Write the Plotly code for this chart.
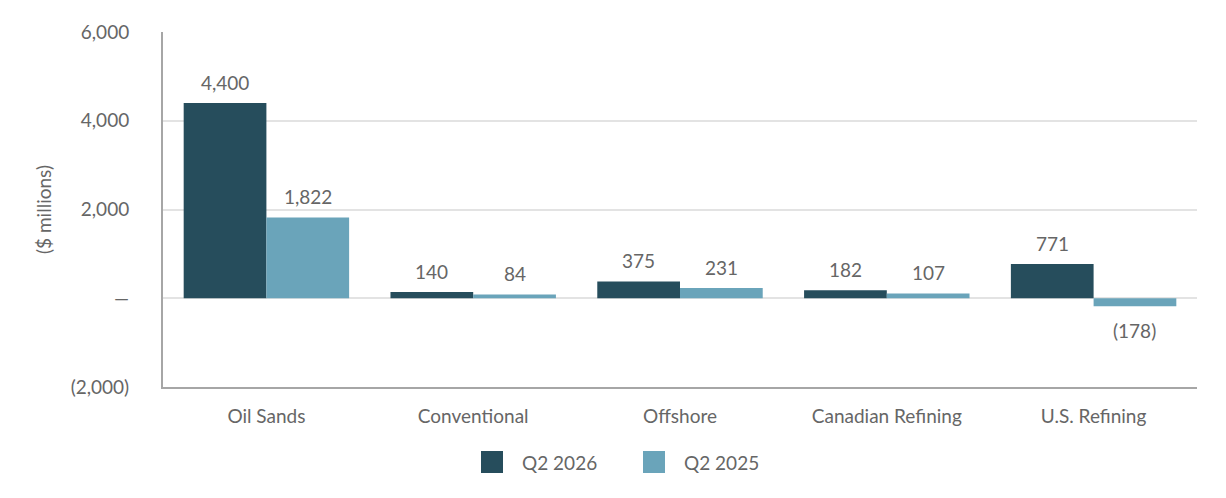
import plotly.graph_objects as go

categories = ["Oil Sands", "Conventional", "Offshore", "Canadian Refining", "U.S. Refining"]
q2_2026 = [4400, 140, 375, 182, 771]
q2_2025 = [1822, 84, 231, 107, -178]
series_names = ["Q2 2026", "Q2 2025"]
tick_vals = [-2000, 0, 2000, 4000, 6000]
tick_text = ["(2,000)", "—", "2,000", "4,000", "6,000"]

DARK = "#264D5C"
LIGHT = "#6AA4BA"
TXT = "#666666"
FONT = "Lato"
FS = 19

W, H = 1226, 498
ML, MR, MT, MB = 163, 29, 32, 111
plot_w = W - ML - MR
plot_h = H - MT - MB

def fmt(v):
    return f"({abs(v):,})" if v < 0 else f"{v:,}"

def px_x(px):
    return (px - ML) / plot_w

def px_y(py):
    return (H - MB - py) / plot_h

fig = go.Figure()
colors = [DARK, LIGHT]
for name, vals, col in [(series_names[0], q2_2026, DARK), (series_names[1], q2_2025, LIGHT)]:
    fig.add_trace(go.Bar(x=categories, y=vals, name=name, showlegend=False,
                         marker=dict(color=col, line=dict(width=0))))

# value labels as annotations
cat_w = plot_w / len(categories)
bar_w = cat_w * 0.8 / 2
for vals, sign in [(q2_2026, -1), (q2_2025, 1)]:
    for c, v in zip(categories, vals):
        fig.add_annotation(x=c, y=v, text=fmt(v), showarrow=False,
                           xshift=sign * bar_w / 2, yshift=21 if v >= 0 else -24,
                           yanchor="middle", font=dict(family=FONT, size=FS, color=TXT))

# custom legend (larger swatches)
legend_x = [481, 643]
leg_y = 462
sw = 22
for name, col, lx in zip(series_names, colors, legend_x):
    fig.add_shape(type="rect", xref="paper", yref="paper",
                  x0=px_x(lx), x1=px_x(lx + sw), y0=px_y(leg_y + sw / 2), y1=px_y(leg_y - sw / 2),
                  fillcolor=col, line=dict(width=0))
    fig.add_annotation(xref="paper", yref="paper", x=px_x(lx + sw + 17), y=px_y(leg_y),
                       text=name, showarrow=False, xanchor="left", yanchor="middle",
                       font=dict(family=FONT, size=FS, color=TXT))

fig.update_layout(
    width=W, height=H,
    margin=dict(l=ML, r=MR, t=MT, b=MB),
    paper_bgcolor="white", plot_bgcolor="white",
    barmode="group", bargap=0.2, bargroupgap=0,
    showlegend=False,
    font=dict(family=FONT, size=FS, color=TXT),
    xaxis=dict(showgrid=False, showline=True, linecolor="#A6A6A6", linewidth=2,
               ticks="", ticklabelstandoff=11, tickfont=dict(size=FS, color=TXT)),
    yaxis=dict(range=[-2000, 6000], tickvals=tick_vals, ticktext=tick_text,
               showgrid=True, gridcolor="#E3E3E3", gridwidth=2,
               zeroline=True, zerolinecolor="#E3E3E3", zerolinewidth=2,
               showline=True, linecolor="#A6A6A6", linewidth=2,
               ticks="", ticklabelstandoff=28, tickfont=dict(size=FS, color=TXT),
               title=dict(text="($ millions)", standoff=14, font=dict(size=FS, color=TXT))),
)

fig.write_html("out.html")
